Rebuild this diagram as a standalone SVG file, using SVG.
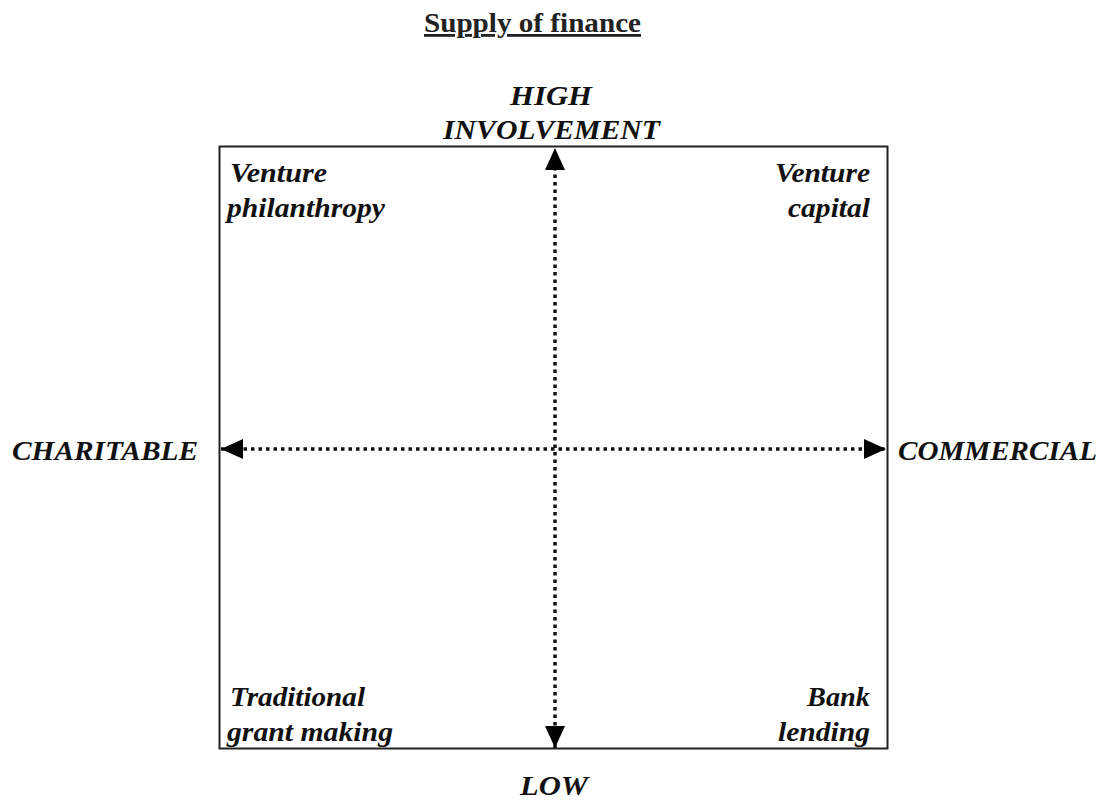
<svg xmlns="http://www.w3.org/2000/svg" width="1102" height="801" viewBox="0 0 1102 801">
<style>
.t{font-family:"Liberation Serif",serif;font-weight:bold;font-style:italic;font-size:28px;fill:#111}
.title{font-family:"Liberation Serif",serif;font-weight:bold;font-size:28px;fill:#222;text-decoration:underline}
.ax{stroke:#111;stroke-width:3.5;stroke-dasharray:3.5 4;fill:none}
</style>
<defs>
<marker id="ah" viewBox="0 0 22 20" refX="22" refY="10" markerWidth="22" markerHeight="20" markerUnits="userSpaceOnUse" orient="auto-start-reverse">
<path d="M0,0 L22,10 L0,20 Z" fill="#000"/>
</marker>
</defs>
<rect width="1102" height="801" fill="#fff"/>
<text class="title" x="424" y="32" textLength="217" lengthAdjust="spacingAndGlyphs">Supply of finance</text>
<g id="frame"><rect x="219.5" y="146.5" width="668" height="602" fill="none" stroke="#222" stroke-width="2"/></g>
<g id="connectors">
<line class="ax" x1="555" y1="748" x2="555" y2="148" marker-start="url(#ah)" marker-end="url(#ah)"/>
<line class="ax" x1="221" y1="449" x2="886" y2="449" marker-start="url(#ah)" marker-end="url(#ah)"/>
</g>
<g id="high"><text class="t" x="510" y="105" textLength="82" lengthAdjust="spacingAndGlyphs">HIGH</text><text class="t" x="443" y="139" textLength="217" lengthAdjust="spacingAndGlyphs">INVOLVEMENT</text></g>
<g id="low"><text class="t" x="520" y="795" textLength="68" lengthAdjust="spacingAndGlyphs">LOW</text></g>
<g id="charitable"><text class="t" x="12" y="460" textLength="186" lengthAdjust="spacingAndGlyphs">CHARITABLE</text></g>
<g id="commercial"><text class="t" x="898" y="460" textLength="199" lengthAdjust="spacingAndGlyphs">COMMERCIAL</text></g>
<g id="vp"><text class="t" x="230" y="182" textLength="97" lengthAdjust="spacingAndGlyphs">Venture</text><text class="t" x="227" y="217" textLength="158" lengthAdjust="spacingAndGlyphs">philanthropy</text></g>
<g id="vc"><text class="t" x="775" y="182" textLength="95" lengthAdjust="spacingAndGlyphs">Venture</text><text class="t" x="788" y="217" textLength="82" lengthAdjust="spacingAndGlyphs">capital</text></g>
<g id="tg"><text class="t" x="230" y="706" textLength="135" lengthAdjust="spacingAndGlyphs">Traditional</text><text class="t" x="227" y="741" textLength="166" lengthAdjust="spacingAndGlyphs">grant making</text></g>
<g id="bl"><text class="t" x="807" y="706" textLength="63" lengthAdjust="spacingAndGlyphs">Bank</text><text class="t" x="778" y="741" textLength="92" lengthAdjust="spacingAndGlyphs">lending</text></g>
</svg>
